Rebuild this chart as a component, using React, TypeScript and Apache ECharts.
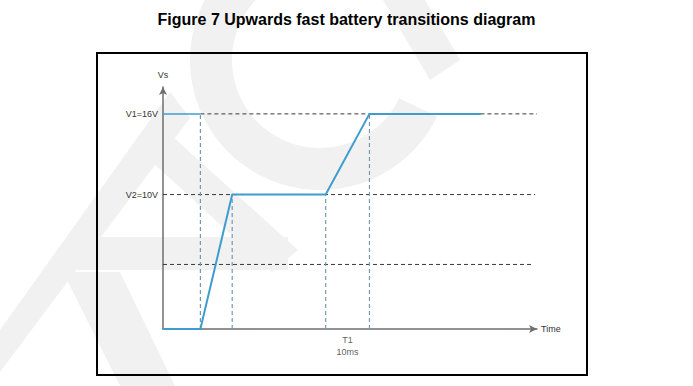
import React, { useEffect, useRef } from "react";
import * as echarts from "echarts";

// Time axis in arbitrary units (0..100), voltage in volts (0..18)
const mainX = [0, 10, 18.5, 43.5, 55.2, 85];
const mainY = [0, 0, 10, 10, 16, 16];
const topSegX = [0, 10];
const topSegY = [16, 16];
const hDashY = [16, 10, 4.8];
const hDashStart = [10, 0, 0];
const hDashEnd = [100, 99.5, 99];
const vDashX = [10, 18.5, 43.5, 55.2];
const vDashTop = [16, 10, 10, 16];
const yTickLabels: Record<number, string> = { 16: "V1=16V", 10: "V2=10V" };
const t1Label = "T1\n10ms";
const t1X = 49.3;

const WM = "#f1f1f1";

export default function App() {
  const ref = useRef<HTMLDivElement>(null);
  useEffect(() => {
    if (!ref.current) return;
    const chart = echarts.init(ref.current, null, { renderer: "svg" });
    const series: any[] = [];
    hDashY.forEach((y, i) => {
      series.push({
        type: "line",
        data: [[hDashStart[i], y], [hDashEnd[i], y]],
        symbol: "none",
        lineStyle: { color: "#3a3a3a", width: 1, type: [4, 3] },
        z: 1,
      });
    });
    vDashX.forEach((x, i) => {
      series.push({
        type: "line",
        data: [[x, 0], [x, vDashTop[i]]],
        symbol: "none",
        lineStyle: { color: "#7399b2", width: 1.2, type: [4, 3] },
        z: 1,
      });
    });
    series.push({
      type: "line",
      data: topSegX.map((x, i) => [x, topSegY[i]]),
      symbol: "none",
      lineStyle: { color: "#3f9ccf", width: 1.5 },
      z: 3,
    });
    series.push({
      type: "line",
      data: mainX.map((x, i) => [x, mainY[i]]),
      symbol: "none",
      lineStyle: { color: "#3f9ccf", width: 2 },
      z: 3,
    });
    series.push({
      type: "scatter",
      data: [[t1X, 0]],
      symbolSize: 0,
      label: {
        show: true,
        position: "bottom",
        distance: 5,
        formatter: t1Label,
        fontSize: 9,
        lineHeight: 12,
        color: "#333",
        fontFamily: "Liberation Sans, Arial, sans-serif",
      },
      z: 4,
    });

    chart.setOption({
      animation: false,
      backgroundColor: "#ffffff",
      title: {
        text: "Figure 7 Upwards fast battery transitions diagram",
        left: "center",
        top: 6,
        textStyle: {
          fontFamily: "Liberation Sans, Arial, sans-serif",
          fontWeight: "bold",
          fontSize: 16,
          color: "#000",
        },
      },
      graphic: [
        {
          type: "sector",
          shape: { cx: 320, cy: 60, r: 130, r0: 88, startAngle: 0.45, endAngle: 4.45, clockwise: true },
          style: { fill: WM },
          silent: true,
          z: -10,
        },
        {
          type: "polygon",
          shape: { points: [[383, 0], [425, 0], [460, 60], [430, 80]] },
          style: { fill: WM },
          silent: true,
          z: -10,
        },
        {
          type: "polygon",
          shape: { points: [[173, 137], [298, 250], [272, 272], [150, 160]] },
          style: { fill: WM },
          silent: true,
          z: -10,
        },
        {
          type: "polygon",
          shape: { points: [[93, 237], [288, 237], [288, 270], [63, 270]] },
          style: { fill: WM },
          silent: true,
          z: -10,
        },
        {
          type: "polygon",
          shape: { points: [[63, 272], [120, 272], [175, 386], [120, 386]] },
          style: { fill: WM },
          silent: true,
          z: -10,
        },
        {
          type: "polygon",
          shape: { points: [[0, 330], [0, 372], [190, 118], [170, 92]] },
          style: { fill: WM },
          silent: true,
          z: -10,
        },
        {
          type: "rect",
          shape: { x: 97, y: 53, width: 490, height: 322 },
          style: { fill: "none", stroke: "#000", lineWidth: 2 },
          z: 10,
        },
      ],
      grid: { left: 163, right: 156, top: 87, bottom: 57 },
      xAxis: {
        type: "value",
        min: 0,
        max: 100,
        name: "Time",
        nameLocation: "end",
        nameGap: 4,
        nameTextStyle: { fontSize: 9, color: "#333", fontFamily: "Liberation Sans, Arial, sans-serif" },
        axisLine: { lineStyle: { color: "#6e6e6e", width: 1.5 }, symbol: ["none", "arrow"], symbolSize: [6, 8] },
        axisTick: { show: false },
        axisLabel: { show: false },
        splitLine: { show: false },
      },
      yAxis: {
        type: "value",
        min: 0,
        max: 18,
        interval: 2,
        name: "Vs",
        nameLocation: "end",
        nameGap: 8,
        nameTextStyle: { fontSize: 9, color: "#333", fontFamily: "Liberation Sans, Arial, sans-serif" },
        axisLine: { lineStyle: { color: "#6e6e6e", width: 1.5 }, symbol: ["none", "arrow"], symbolSize: [6, 8] },
        axisTick: { show: false },
        axisLabel: {
          formatter: (v: number) => yTickLabels[v] ?? "",
          fontSize: 9,
          color: "#333",
          margin: 5,
          fontFamily: "Liberation Sans, Arial, sans-serif",
        },
        splitLine: { show: false },
      },
      series,
    });
    return () => chart.dispose();
  }, []);
  return <div ref={ref} style={{ width: 693, height: 386, position: "absolute", left: 0, top: 0 }} />;
}
